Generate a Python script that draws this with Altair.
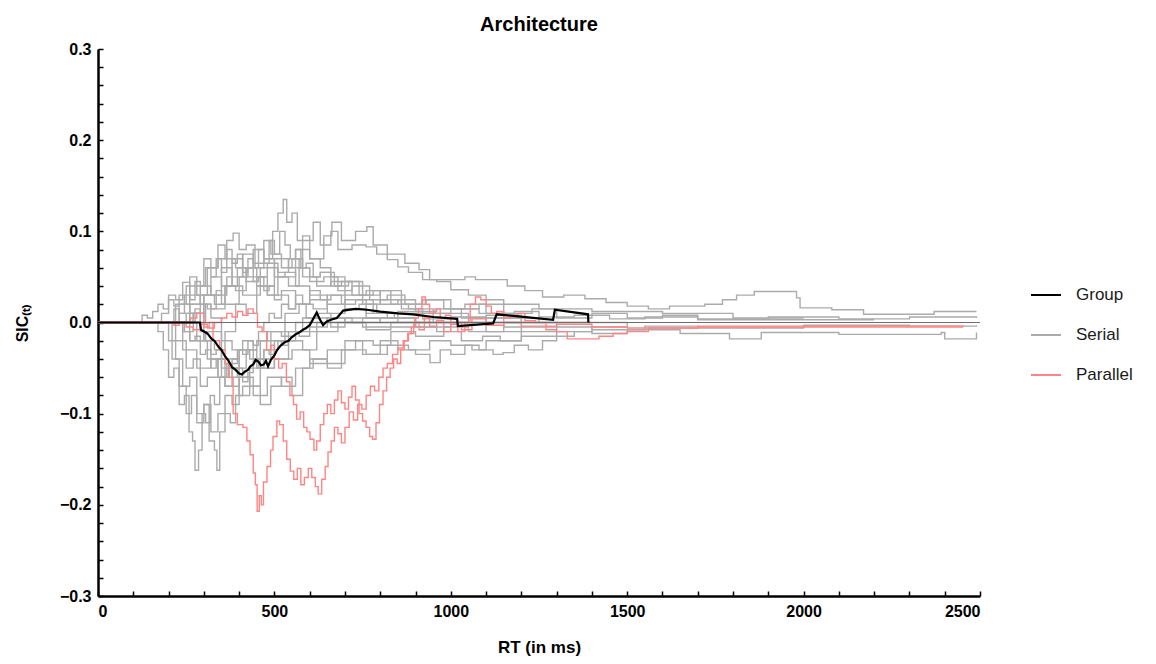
import altair as alt
import pandas as pd

# ---------------- data ----------------
x_ticks = [0, 500, 1000, 1500, 2000, 2500]
x_minor = [i * 100 for i in range(26)]
y_ticks = [-0.3, -0.2, -0.1, 0.0, 0.1, 0.2, 0.3]
y_minor = [round(-0.3 + 0.02 * i, 2) for i in range(31)]

group_line = [(0, 0), (289, 0), (292, -0.008), (310, -0.012), (322, -0.018), (330, -0.02), (342, -0.027),
              (350, -0.03), (360, -0.037), (370, -0.042), (380, -0.049), (390, -0.052), (400, -0.056),
              (408, -0.057), (416, -0.054), (425, -0.052), (432, -0.048), (440, -0.046), (447, -0.041),
              (455, -0.043), (462, -0.047), (470, -0.046), (476, -0.042), (482, -0.048), (490, -0.041),
              (500, -0.036), (508, -0.03), (516, -0.026), (528, -0.022), (540, -0.02), (550, -0.016),
              (560, -0.013), (570, -0.011), (581, -0.008), (590, -0.006), (600, -0.003), (610, 0.004),
              (620, 0.011), (628, 0.004), (638, -0.003), (648, 0.001), (660, 0.003), (677, 0.005),
              (695, 0.013), (730, 0.015), (762, 0.014), (800, 0.012), (850, 0.01), (893, 0.009),
              (950, 0.006), (1018, 0.004), (1020, -0.004), (1120, -0.001), (1130, 0.009), (1290, 0.003),
              (1295, 0.014), (1389, 0.009), (1390, 0.0)]

parallel_a = [(0, 0), (240, 0), (262, 0.005), (280, 0.01), (300, -0.005), (315, 0.0), (326, -0.02),
              (345, -0.03), (360, -0.045), (372, -0.06), (383, -0.1), (395, -0.112), (411, -0.115),
              (422, -0.13), (431, -0.145), (440, -0.165), (446, -0.178), (451, -0.207), (457, -0.19),
              (463, -0.2), (469, -0.175), (479, -0.158), (489, -0.14), (496, -0.125), (507, -0.108),
              (515, -0.112), (525, -0.13), (535, -0.15), (545, -0.163), (555, -0.172), (565, -0.16),
              (575, -0.178), (585, -0.17), (596, -0.16), (606, -0.17), (616, -0.18), (624, -0.188),
              (634, -0.172), (644, -0.158), (652, -0.142), (661, -0.13), (670, -0.115), (680, -0.122),
              (690, -0.132), (700, -0.115), (712, -0.098), (724, -0.107), (736, -0.09), (748, -0.095),
              (760, -0.08), (772, -0.07), (784, -0.075), (796, -0.06), (808, -0.05), (820, -0.045),
              (835, -0.035), (850, -0.028), (865, -0.02), (880, -0.012), (895, 0.0), (910, -0.008),
              (925, 0.005), (940, -0.004), (960, 0.002), (980, -0.01), (1000, 0.0), (1030, -0.008),
              (1060, 0.004), (1100, -0.003), (1150, 0.0), (1200, -0.004), (1300, -0.002),
              (1400, -0.005), (1500, -0.006), (1700, -0.004), (2000, -0.005), (2450, -0.004)]

parallel_b = [(0, 0), (200, 0), (215, -0.003), (230, 0.0), (250, -0.005), (270, -0.008), (290, -0.002),
              (310, -0.006), (330, 0.0), (350, 0.005), (365, 0.01), (380, 0.006), (395, 0.012),
              (410, 0.008), (425, 0.015), (440, 0.01), (452, -0.005), (465, -0.01), (478, -0.03),
              (490, -0.025), (500, -0.04), (512, -0.05), (522, -0.045), (534, -0.065), (544, -0.08),
              (554, -0.09), (563, -0.106), (573, -0.098), (583, -0.115), (592, -0.12), (601, -0.128),
              (612, -0.14), (620, -0.13), (630, -0.112), (640, -0.1), (650, -0.09), (660, -0.1),
              (670, -0.085), (680, -0.075), (690, -0.088), (700, -0.095), (710, -0.082), (720, -0.07),
              (730, -0.085), (740, -0.1), (750, -0.108), (760, -0.115), (770, -0.125), (778, -0.128),
              (788, -0.11), (798, -0.09), (808, -0.075), (818, -0.06), (828, -0.05), (838, -0.04),
              (848, -0.045), (858, -0.03), (868, -0.02), (878, -0.012), (888, -0.005), (898, 0.005),
              (908, 0.015), (918, 0.028), (928, 0.02), (940, 0.01), (955, 0.015), (970, 0.005),
              (985, 0.008), (1000, -0.002), (1020, -0.01), (1040, 0.0), (1055, 0.02), (1070, 0.028),
              (1085, 0.025), (1100, 0.018), (1115, 0.01), (1130, 0.012), (1150, 0.005), (1170, 0.008),
              (1190, 0.01), (1210, 0.002), (1240, 0.0), (1270, -0.008), (1300, -0.01), (1330, -0.018),
              (1380, -0.018), (1420, -0.015), (1460, -0.012), (1500, -0.01), (1560, -0.006),
              (1700, -0.005), (2000, -0.004), (2455, -0.004)]

serial_01 = [(0, 0), (150, 0), (170, -0.01), (185, -0.03), (200, -0.06), (215, -0.05), (230, -0.09),
             (245, -0.08), (258, -0.12), (268, -0.13), (275, -0.162), (285, -0.14), (295, -0.1),
             (305, -0.11), (318, -0.08), (330, -0.09), (345, -0.06), (360, -0.07), (380, -0.04),
             (400, -0.05), (420, -0.03), (450, -0.02), (480, -0.01), (520, -0.015), (560, 0.0),
             (600, -0.005), (650, 0.005), (700, 0.0), (800, 0.005), (900, 0.0), (1500, 0.0)]
serial_02 = [(0, 0), (180, 0), (200, -0.02), (220, -0.04), (240, -0.07), (260, -0.06), (280, -0.1),
             (300, -0.09), (315, -0.13), (330, -0.14), (337, -0.162), (345, -0.12), (360, -0.1),
             (375, -0.11), (390, -0.08), (410, -0.07), (430, -0.05), (460, -0.04), (490, -0.02),
             (530, -0.01), (580, 0.005), (650, 0.0), (750, -0.005), (900, 0.0), (1200, 0.0)]
serial_03 = [(0, 0), (200, 0), (230, 0.01), (260, 0.02), (290, 0.03), (320, 0.05), (350, 0.04),
             (380, 0.07), (410, 0.06), (440, 0.08), (470, 0.07), (495, 0.1), (510, 0.12), (525, 0.135),
             (535, 0.11), (550, 0.12), (565, 0.09), (580, 0.095), (600, 0.07), (630, 0.06), (660, 0.05),
             (700, 0.045), (740, 0.03), (780, 0.035), (830, 0.02), (880, 0.015), (950, 0.01),
             (1050, 0.005), (1200, 0.0), (1400, 0.0)]
serial_04 = [(0, 0), (190, 0), (220, 0.02), (250, 0.04), (280, 0.03), (310, 0.06), (340, 0.07),
             (365, 0.09), (383, 0.098), (400, 0.08), (420, 0.085), (445, 0.06), (470, 0.07), (500, 0.05),
             (530, 0.055), (560, 0.04), (600, 0.03), (650, 0.02), (700, 0.025), (760, 0.01), (820, 0.005),
             (900, -0.005), (1000, 0.0), (1100, -0.01), (1200, 0.0)]
serial_05 = [(0, 0), (200, 0), (250, 0.01), (300, 0.03), (350, 0.02), (400, 0.05), (450, 0.04),
             (500, 0.07), (540, 0.06), (580, 0.09), (610, 0.11), (630, 0.085), (660, 0.1), (680, 0.08),
             (720, 0.085), (760, 0.083), (790, 0.075), (820, 0.069), (850, 0.061), (880, 0.055),
             (920, 0.047), (960, 0.045), (1000, 0.036), (1050, 0.03), (1100, 0.025), (1150, 0.02),
             (1250, 0.015), (1400, 0.012), (1600, 0.01), (1800, 0.005), (2000, 0.005)]
serial_06 = [(0, 0), (210, 0), (260, 0.02), (310, 0.015), (360, 0.04), (410, 0.03), (460, 0.06),
             (510, 0.05), (560, 0.08), (600, 0.07), (640, 0.095), (663, 0.11), (690, 0.09), (730, 0.1),
             (762, 0.105), (780, 0.085), (820, 0.075), (870, 0.065), (910, 0.058), (940, 0.047),
             (1000, 0.047), (1040, 0.05), (1070, 0.047), (1120, 0.047), (1160, 0.04), (1210, 0.035),
             (1260, 0.028), (1320, 0.03), (1380, 0.026), (1440, 0.022), (1500, 0.018), (1560, 0.015),
             (1620, 0.018), (1720, 0.02), (1770, 0.025), (1810, 0.03), (1860, 0.034), (1920, 0.034),
             (1980, 0.027), (1990, 0.016), (2080, 0.014), (2170, 0.009), (2370, 0.012), (2490, 0.012)]
serial_07 = [(0, 0), (200, 0), (240, -0.03), (280, -0.05), (320, -0.04), (360, -0.07), (400, -0.06),
             (440, -0.08), (480, -0.06), (520, -0.07), (560, -0.05), (600, -0.04), (650, -0.045),
             (700, -0.03), (760, -0.035), (820, -0.025), (880, -0.03), (940, -0.02), (1000, -0.025),
             (1060, -0.03), (1100, -0.02), (1200, -0.015), (1300, -0.01), (1400, -0.012), (1500, -0.008),
             (1650, -0.012), (1790, -0.018), (1880, -0.011), (2100, -0.013), (2390, -0.011),
             (2400, -0.018), (2480, -0.018), (2490, -0.011)]
serial_08 = [(0, 0), (220, 0), (260, -0.02), (300, -0.01), (350, -0.04), (400, -0.03), (450, -0.05),
             (500, -0.04), (550, -0.03), (600, -0.045), (650, -0.03), (700, -0.02), (750, -0.035),
             (800, -0.02), (850, -0.03), (900, -0.035), (941, -0.044), (970, -0.03), (1000, -0.035),
             (1040, -0.025), (1080, -0.03), (1120, -0.035), (1148, -0.033), (1180, -0.025),
             (1220, -0.03), (1260, -0.02), (1300, -0.015), (1350, -0.01), (1400, -0.005), (1500, 0.0)]
serial_09 = [(0, 0), (160, 0), (180, 0.01), (200, 0.03), (220, 0.025), (240, 0.044), (260, 0.03),
             (290, 0.02), (320, 0.005), (350, -0.02), (380, -0.03), (410, -0.02), (440, -0.04),
             (470, -0.03), (510, -0.02), (560, -0.01), (620, 0.0), (700, 0.005), (800, 0.0), (1000, 0.0)]
serial_10 = [(0, 0), (180, 0), (210, -0.04), (230, -0.07), (250, -0.1), (265, -0.08), (280, -0.11),
             (300, -0.09), (320, -0.12), (340, -0.1), (360, -0.08), (380, -0.09), (400, -0.06),
             (430, -0.07), (460, -0.05), (500, -0.04), (540, -0.02), (580, -0.03), (620, -0.01),
             (680, 0.0), (750, 0.005), (850, 0.0)]
serial_11 = [(0, 0), (230, 0), (260, 0.01), (290, 0.04), (320, 0.03), (350, 0.06), (380, 0.05),
             (410, 0.075), (440, 0.065), (470, 0.09), (490, 0.075), (520, 0.06), (550, 0.07),
             (580, 0.05), (620, 0.04), (660, 0.045), (700, 0.03), (750, 0.02), (800, 0.025),
             (860, 0.015), (920, 0.01), (1000, 0.015), (1080, 0.01), (1150, 0.005), (1250, 0.0)]
serial_12 = [(0, 0), (250, 0), (280, -0.02), (310, -0.04), (340, -0.06), (370, -0.05), (400, -0.08),
             (430, -0.07), (460, -0.09), (490, -0.07), (520, -0.06), (550, -0.08), (580, -0.05),
             (610, -0.04), (650, -0.05), (690, -0.03), (730, -0.02), (780, -0.025), (830, -0.01),
             (900, -0.015), (980, -0.005), (1050, -0.01), (1150, 0.0)]
serial_13 = [(0, 0), (200, 0), (230, 0.02), (260, 0.05), (280, 0.04), (300, 0.07), (320, 0.06),
             (340, 0.085), (360, 0.07), (390, 0.06), (420, 0.045), (450, 0.05), (480, 0.03),
             (520, 0.035), (560, 0.02), (600, 0.025), (650, 0.01), (700, 0.015), (760, 0.005),
             (850, 0.01), (950, 0.0), (1050, 0.005), (1150, -0.005), (1300, 0.0)]
serial_14 = [(0, 0), (210, 0), (240, -0.01), (270, 0.01), (300, -0.02), (330, -0.03), (360, -0.01),
             (390, 0.02), (420, 0.01), (450, 0.04), (480, 0.03), (510, 0.05), (540, 0.04), (570, 0.06),
             (600, 0.045), (640, 0.05), (680, 0.035), (720, 0.04), (770, 0.025), (820, 0.03),
             (870, 0.02), (930, 0.025), (1000, 0.015), (1080, 0.02), (1150, 0.01), (1230, 0.015),
             (1300, 0.005), (1400, 0.01), (1500, 0.005), (1600, 0.008), (1700, 0.004), (1900, 0.006),
             (2100, 0.004), (2300, 0.006), (2490, 0.005)]
serial_15 = [(0, 0), (190, 0), (220, -0.02), (250, -0.05), (270, -0.04), (290, -0.07), (310, -0.06),
             (340, -0.04), (370, -0.05), (400, -0.03), (430, -0.04), (460, -0.02), (490, -0.01),
             (530, 0.01), (570, 0.02), (610, 0.015), (650, 0.03), (690, 0.02), (730, 0.025),
             (780, 0.01), (840, 0.005), (900, -0.005), (960, -0.01), (1030, -0.02), (1090, -0.015),
             (1140, -0.02), (1200, -0.01), (1300, -0.005), (1400, -0.008), (1550, -0.004),
             (1700, -0.006), (2000, -0.003), (2300, -0.004), (2490, -0.003)]
serial_16 = [(0, 0), (240, 0), (270, 0.01), (300, 0.03), (330, 0.02), (360, 0.04), (390, 0.035),
             (420, 0.06), (450, 0.05), (480, 0.065), (510, 0.055), (540, 0.07), (570, 0.06),
             (600, 0.05), (630, 0.055), (670, 0.04), (710, 0.045), (750, 0.03), (800, 0.035),
             (860, 0.02), (920, 0.025), (980, 0.015), (1040, 0.02), (1100, 0.01), (1180, 0.012),
             (1250, 0.006), (1350, 0.008), (1450, 0.004), (1550, 0.006), (1700, 0.003), (2200, 0.003)]
serial_17 = [(0, 0), (110, 0), (125, 0.008), (140, 0.005), (155, 0.012), (170, 0.02), (185, 0.015),
             (200, 0.025), (215, 0.018), (230, 0.03), (245, 0.02), (260, 0.01), (275, 0.015),
             (290, -0.01), (305, -0.02), (320, -0.035), (335, -0.03), (350, -0.05), (365, -0.045),
             (380, -0.06), (395, -0.05), (410, -0.065), (425, -0.055), (440, -0.04), (455, -0.05),
             (470, -0.03), (485, -0.035), (500, -0.02), (520, -0.025), (540, -0.01), (570, -0.015),
             (600, 0.0), (650, 0.005), (720, 0.0), (900, 0.0)]
serial_18 = [(0, 0), (200, 0), (215, 0.015), (230, 0.01), (245, 0.03), (260, 0.025), (275, 0.045),
             (290, 0.04), (305, 0.06), (320, 0.05), (335, 0.07), (350, 0.055), (365, 0.08), (380, 0.065),
             (395, 0.075), (410, 0.055), (425, 0.06), (440, 0.045), (455, 0.05), (470, 0.035),
             (485, 0.04), (500, 0.025), (520, 0.03), (540, 0.015), (560, 0.02), (590, 0.005),
             (620, 0.01), (660, -0.005), (700, 0.0), (760, -0.008), (830, 0.0), (950, 0.0)]
serial_19 = [(0, 0), (230, 0), (245, -0.01), (260, -0.02), (275, -0.015), (290, -0.035), (305, -0.03),
             (320, -0.05), (335, -0.04), (350, -0.06), (365, -0.05), (380, -0.045), (395, -0.03),
             (410, -0.035), (425, -0.02), (440, -0.025), (455, -0.01), (470, 0.0), (485, 0.01),
             (500, 0.005), (520, 0.02), (540, 0.015), (560, 0.03), (580, 0.02), (600, 0.035),
             (630, 0.025), (660, 0.03), (700, 0.015), (740, 0.02), (790, 0.01), (850, 0.012),
             (920, 0.004), (1000, 0.006), (1100, 0.0), (1300, 0.0)]
serial_20 = [(0, 0), (260, 0), (275, 0.01), (290, 0.0), (305, 0.02), (320, 0.015), (335, 0.035),
             (350, 0.03), (365, 0.05), (380, 0.04), (395, 0.06), (410, 0.05), (425, 0.07), (440, 0.06),
             (455, 0.08), (470, 0.065), (485, 0.09), (500, 0.075), (515, 0.1), (530, 0.085),
             (545, 0.07), (560, 0.08), (575, 0.06), (590, 0.065), (610, 0.05), (630, 0.055),
             (660, 0.04), (690, 0.045), (720, 0.03), (760, 0.035), (800, 0.02), (850, 0.025),
             (900, 0.012), (960, 0.015), (1030, 0.005), (1100, 0.008), (1200, 0.0)]

serial_all = [serial_01, serial_02, serial_03, serial_04, serial_05, serial_06, serial_07, serial_08,
              serial_09, serial_10, serial_11, serial_12, serial_13, serial_14, serial_15, serial_16,
              serial_17, serial_18, serial_19, serial_20]
parallel_all = [parallel_a, parallel_b]

categories = ["Group", "Serial", "Parallel"]
colors = ["#000000", "#ababab", "#ff8585"]


def frame(series_list, arch, prefix):
    rows = []
    for i, pts in enumerate(series_list):
        for t, v in pts:
            rows.append({"t": t, "v": v, "series": f"{prefix}{i}", "arch": arch})
    return pd.DataFrame(rows)


df_serial = frame(serial_all, "Serial", "s")
df_parallel = frame(parallel_all, "Parallel", "p")
df_group = frame([group_line], "Group", "g")

# ---------------- scales / axes ----------------
W, H = 882, 547
xs = alt.Scale(domain=[0, 2500], nice=False, zero=False)
ys = alt.Scale(domain=[-0.3, 0.3], nice=False, zero=False)
cs = alt.Scale(domain=categories, range=colors)

LABEL_FONT = "Liberation Sans Narrow, Liberation Sans, Arial Narrow, sans-serif"

x_main = alt.Axis(orient="bottom", values=x_ticks, format="d", ticks=False, grid=False,
                  domainColor="black", domainWidth=2.5, labelFont=LABEL_FONT, labelFontSize=16,
                  labelFontWeight="bold", labelColor="black", labelPadding=7,
                  title="RT (in ms)", titleFont=LABEL_FONT, titleFontSize=17, titleFontWeight="bold",
                  titleColor="black", titlePadding=20)
y_main = alt.Axis(orient="left", values=y_ticks, format=".1f", ticks=False, grid=False,
                  domainColor="black", domainWidth=2.5, labelFont=LABEL_FONT, labelFontSize=16,
                  labelFontWeight="bold", labelColor="black", labelPadding=7,
                  title="SIC₍ₜ₎", titleFont=LABEL_FONT, titleFontSize=16, titleFontWeight="bold",
                  titleColor="black", titlePadding=29)
x_tick = alt.Axis(orient="top", offset=-H, values=x_minor, labels=False, domain=False, grid=False,
                  ticks=True, tickSize=5, tickColor="black", tickWidth=1.5, title=None)
y_tick = alt.Axis(orient="right", offset=-W, values=y_minor, labels=False, domain=False, grid=False,
                  ticks=True, tickSize=5, tickColor="black", tickWidth=1.5, title=None)

legend = alt.Legend(title=None, orient="none", legendX=932, legendY=230, symbolType="stroke",
                    symbolSize=900, symbolStrokeWidth=2, labelFont="Liberation Sans",
                    labelFontSize=17, labelColor="#1a1a1a", labelOffset=14, rowPadding=16)

gray = alt.Chart(df_serial).mark_line(interpolate="step-after", strokeWidth=1.4, clip=True).encode(
    x=alt.X("t:Q", scale=xs, axis=x_main),
    y=alt.Y("v:Q", scale=ys, axis=y_main),
    color=alt.Color("arch:N", scale=cs, legend=legend),
    detail="series:N",
)
red = alt.Chart(df_parallel).mark_line(interpolate="step-after", strokeWidth=1.4, clip=True).encode(
    x=alt.X("t:Q", scale=xs, axis=x_tick),
    y=alt.Y("v:Q", scale=ys, axis=y_tick),
    color=alt.Color("arch:N", scale=cs, legend=legend),
    detail="series:N",
)
zero = alt.Chart(pd.DataFrame({"v": [0.0]})).mark_rule(color="#6e6e6e", strokeWidth=1).encode(
    y=alt.Y("v:Q", scale=ys, axis=None)
)
black = alt.Chart(df_group).mark_line(strokeWidth=2.2, clip=True).encode(
    x=alt.X("t:Q", scale=xs, axis=None),
    y=alt.Y("v:Q", scale=ys, axis=None),
    color=alt.Color("arch:N", scale=cs, legend=legend),
    detail="series:N",
)

chart = alt.layer(gray, red, zero, black).resolve_scale(
    x="shared", y="shared", color="shared"
).resolve_axis(x="independent", y="independent").properties(
    width=W, height=H,
    autosize="none",
    padding={"left": 90, "top": 41, "right": 160, "bottom": 62},
    title=alt.TitleParams("Architecture", font="Liberation Sans", fontSize=20,
                          fontWeight="bold", color="black", offset=6),
).configure_view(stroke=None)

chart.save("out.html", embed_options={"renderer": "svg", "actions": False})
